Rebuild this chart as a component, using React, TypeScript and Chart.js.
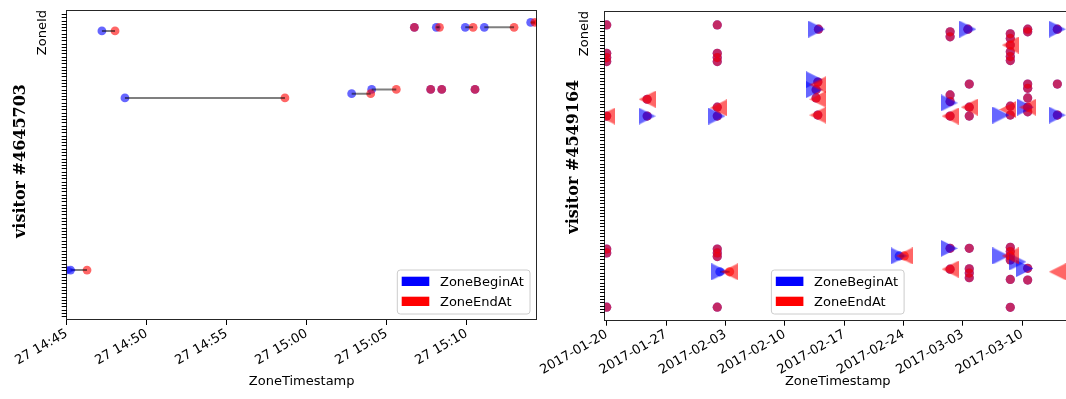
import React, { useEffect, useRef } from 'react';
import { Chart, registerables } from 'chart.js';

Chart.register(...registerables);

const SANS = "'DejaVu Sans', sans-serif";
const SERIF = "'DejaVu Serif', serif";

// ---------------- left panel: x = minutes after 27 14:45 ----------------
const leftTitle = 'visitor #4645703';
const leftZone = [14.2, 87.0, 66.6, 67.9, 69.2, 88.1, 88.1, 88.1, 88.1, 69.2, 69.2, 69.2, 89.6];
const leftBegin = [0.24, 2.2, 3.64, 17.81, 19.06, 21.73, 23.1, 24.91, 26.1, 22.75, 23.44, 25.52, 29.0];
const leftEnd = [1.27, 3.02, 13.64, 19.0, 20.6, 21.73, 23.3, 25.4, 27.96, 22.75, 23.44, 25.52, 29.27];
const leftEntryX = [0.24];
const leftEntryZone = [14.2];
const leftExitX = [29.27];
const leftExitZone = [89.6];
const leftTickValues = [0, 5, 10, 15, 20, 25];
const leftTickLabels = ['27 14:45', '27 14:50', '27 14:55', '27 15:00', '27 15:05', '27 15:10'];
const leftZoneTicks = Array.from({ length: 93 }, (_, i) => i);

// ---------------- right panel: x = days after 2017-01-20 ----------------
const rightTitle = 'visitor #4549164';
const rightBegin = [
  0, 0, 0, 0, 0, 0, 0, 0,
  4.77, 4.77,
  13.04, 13.04, 13.04, 13.04, 13.04, 13.04, 13.04, 13.04, 13.04, 13.04, 13.35,
  24.98, 24.9, 24.7, 24.7, 24.9,
  34.5,
  40.5, 40.5, 40.5, 40.5, 40.5, 40.5, 40.5,
  42.6, 42.76, 42.76, 42.76, 42.76, 42.76, 42.76, 42.76,
  47.6, 47.6, 47.6, 47.6, 47.6, 47.6, 47.6, 47.6, 47.6, 47.6, 47.6, 47.6, 47.6, 47.6,
  49.65, 49.65, 49.65, 49.65, 49.65, 49.65, 49.65, 49.65, 49.65,
  53.15, 53.15, 53.15,
];
const rightEnd = [
  0, 0, 0, 0, 0, 0, 0, 0,
  4.77, 4.77,
  13.04, 13.04, 13.04, 13.04, 13.04, 13.04, 13.04, 13.04, 13.04, 13.04, 14.5,
  24.98, 24.9, 24.7, 24.7, 24.9,
  35.1,
  40.5, 40.5, 40.5, 40.5, 40.5, 40.5, 40.5,
  42.6, 42.76, 42.76, 42.76, 42.76, 42.76, 42.76, 42.76,
  47.6, 47.6, 47.6, 47.6, 47.6, 47.6, 47.6, 47.6, 47.6, 47.6, 47.6, 47.6, 47.6, 47.6,
  49.65, 49.65, 49.65, 49.65, 49.65, 49.65, 49.65, 49.65, 49.65,
  53.15, 53.15, 53.15,
];
const rightZone = [
  87.1, 78.5, 77.2, 76.0, 59.5, 19.3, 18.1, 1.7,
  64.6, 59.5,
  87.1, 78.5, 77.2, 76.0, 62.2, 59.5, 19.3, 18.1, 17.0, 1.7, 12.4,
  85.8, 69.8, 67.5, 65.0, 59.8,
  17.2,
  85.0, 83.5, 65.9, 63.9, 59.5, 19.5, 13.2,
  85.8, 69.2, 62.2, 59.5, 19.5, 13.3, 12.0, 10.6,
  84.4, 83.0, 81.0, 79.0, 77.5, 76.3, 62.5, 59.8, 19.8, 18.5, 17.2, 16.0, 10.1, 1.65,
  85.8, 85.0, 69.2, 67.9, 65.0, 62.2, 60.8, 13.45, 9.9,
  85.8, 69.2, 59.8,
];
const rightEntryDay = [4.77, 13.0, 13.35, 24.78, 24.5, 24.5, 34.5, 40.4, 40.4, 42.6, 46.5, 46.5, 48.5, 49.3, 49.4, 53.15, 53.15];
const rightEntryZone = [59.5, 59.5, 12.4, 85.8, 70.5, 67.5, 17.2, 63.5, 19.5, 85.8, 59.8, 17.2, 15.4, 13.4, 62.2, 85.8, 59.8];
const rightExitDay = [0, 4.77, 13.2, 14.5, 24.9, 24.9, 24.9, 35.1, 40.5, 40.5, 42.76, 47.6, 47.3, 47.6, 49.65, 53.15];
const rightExitZone = [59.5, 64.6, 62.0, 12.4, 69.0, 64.6, 59.8, 17.2, 59.5, 13.2, 62.2, 81.0, 61.5, 17.2, 62.2, 12.4];
const rightTickValues = [0, 7, 14, 21, 28, 35, 42, 49];
const rightTickLabels = ['2017-01-20', '2017-01-27', '2017-02-03', '2017-02-10', '2017-02-17', '2017-02-24', '2017-03-03', '2017-03-10'];
const rightZoneTicks = Array.from({ length: 89 }, (_, i) => i);

const legendLabels = ['ZoneBeginAt', 'ZoneEndAt'];
const legendColors = ['#0000ff', '#ff0000'];

const BLUE = 'rgba(0,0,255,0.6)';
const RED = 'rgba(255,0,0,0.6)';

function triangleStyle(size: number, color: string, dir: 'right' | 'left') {
  const c = document.createElement('canvas');
  c.width = size;
  c.height = size;
  const g = c.getContext('2d')!;
  g.fillStyle = color;
  g.beginPath();
  if (dir === 'right') {
    g.moveTo(0, 0);
    g.lineTo(size, size / 2);
    g.lineTo(0, size);
  } else {
    g.moveTo(size, 0);
    g.lineTo(0, size / 2);
    g.lineTo(size, size);
  }
  g.closePath();
  g.fill();
  return c;
}

type Panel = {
  title: string; titleX: number; titleY: number;
  zone: number[]; begin: number[]; end: number[];
  entryX: number[]; entryZone: number[]; exitX: number[]; exitZone: number[];
  xMin: number; xMax: number; yMin: number; yMax: number;
  tickValues: number[]; tickLabels: string[]; yTicks: number[];
  triSize: number; pointRadius: number;
  yWidth: number; yTitlePad: number; padTop: number; padRight: number; xHeight: number;
  legendMode: 'right' | 'center'; legendInsetX: number; legendInsetY: number;
};

const decorPlugin = {
  id: 'decor',
  afterDraw(chart: any, _args: any, opts: any) {
    const p: Panel = opts.panel;
    const { ctx, chartArea: a } = chart;
    ctx.save();
    // axes frame
    ctx.strokeStyle = 'rgba(0,0,0,0.85)';
    ctx.lineWidth = 1;
    const l = Math.round(a.left) - 0.5;
    const t = Math.round(a.top) + 0.5;
    const r = Math.round(a.right) - 0.5;
    const b = Math.round(a.bottom) - 0.5;
    ctx.strokeRect(l, t, r - l, b - t);
    // legend
    const bw = 132.7;
    const bh = 44;
    const bx = p.legendMode === 'right' ? a.right - p.legendInsetX - bw : (a.left + a.right) / 2 - bw / 2;
    const by = a.bottom - p.legendInsetY - bh;
    ctx.beginPath();
    const rr = 3;
    ctx.moveTo(bx + rr, by);
    ctx.lineTo(bx + bw - rr, by);
    ctx.arcTo(bx + bw, by, bx + bw, by + rr, rr);
    ctx.lineTo(bx + bw, by + bh - rr);
    ctx.arcTo(bx + bw, by + bh, bx + bw - rr, by + bh, rr);
    ctx.lineTo(bx + rr, by + bh);
    ctx.arcTo(bx, by + bh, bx, by + bh - rr, rr);
    ctx.lineTo(bx, by + rr);
    ctx.arcTo(bx, by, bx + rr, by, rr);
    ctx.closePath();
    ctx.fillStyle = 'rgba(255,255,255,0.8)';
    ctx.fill();
    ctx.strokeStyle = '#cccccc';
    ctx.stroke();
    ctx.font = `13px ${SANS}`;
    ctx.textBaseline = 'alphabetic';
    ctx.textAlign = 'left';
    legendLabels.forEach((lab, i) => {
      ctx.fillStyle = legendColors[i];
      ctx.fillRect(bx + 4.4, by + 6.7 + i * 20, 27.6, 9.3);
      ctx.fillStyle = '#000';
      ctx.fillText(lab, bx + 42.7, by + 16 + i * 20);
    });
    // visitor label
    ctx.translate(p.titleX, p.titleY);
    ctx.rotate(-Math.PI / 2);
    ctx.font = `bold 16px ${SERIF}`;
    ctx.fillStyle = '#000';
    ctx.textAlign = 'center';
    ctx.textBaseline = 'middle';
    ctx.fillText(p.title, 0, 0);
    ctx.restore();
  },
};

function buildChart(canvas: HTMLCanvasElement, p: Panel) {
  const pts = (xs: number[], ys: number[]) => xs.map((x, i) => ({ x, y: ys[i] }));
  const segs: any[] = [];
  p.zone.forEach((z, i) => {
    segs.push({ x: p.begin[i], y: z }, { x: p.end[i], y: z }, { x: p.end[i], y: null });
  });
  return new Chart(canvas, {
    type: 'scatter',
    data: {
      datasets: [
        { label: 'ZoneBeginAt', data: pts(p.begin, p.zone), pointBackgroundColor: BLUE, backgroundColor: BLUE, pointRadius: p.pointRadius, pointBorderWidth: 0, order: 5 },
        { label: 'ZoneEndAt', data: pts(p.end, p.zone), pointBackgroundColor: RED, backgroundColor: RED, pointRadius: p.pointRadius, pointBorderWidth: 0, order: 4 },
        { label: 'span', data: segs, showLine: true, borderColor: 'rgba(0,0,0,0.5)', borderWidth: 2, pointRadius: 0, order: 3 } as any,
        { label: 'entry', data: pts(p.entryX, p.entryZone), pointStyle: triangleStyle(p.triSize, BLUE, 'right'), pointRadius: p.triSize / 2, order: 2 } as any,
        { label: 'exit', data: pts(p.exitX, p.exitZone), pointStyle: triangleStyle(p.triSize, RED, 'left'), pointRadius: p.triSize / 2, order: 1 } as any,
      ],
    },
    options: {
      animation: false,
      responsive: false,
      events: [],
      layout: { padding: { left: 0, top: p.padTop, right: p.padRight, bottom: 0 } },
      plugins: {
        legend: { display: false },
        tooltip: { enabled: false },
        decor: { panel: p },
      } as any,
      scales: {
        x: {
          type: 'linear',
          min: p.xMin,
          max: p.xMax,
          bounds: 'data',
          afterBuildTicks: (s: any) => { s.ticks = p.tickValues.map((v) => ({ value: v })); },
          afterFit: (s: any) => { s.height = p.xHeight; },
          ticks: {
            autoSkip: false,
            maxRotation: 30,
            minRotation: 30,
            padding: 1,
            color: '#000',
            font: { family: SANS, size: 13 },
            callback: (_v: any, i: number) => p.tickLabels[i],
          },
          grid: { drawOnChartArea: false, drawTicks: true, tickLength: 5, color: '#000', lineWidth: 1 },
          border: { display: false },
          title: { display: true, text: 'ZoneTimestamp', color: '#000', font: { family: SANS, size: 13 }, padding: { top: 0, bottom: 9.7 } },
        },
        y: {
          type: 'linear',
          min: p.yMin,
          max: p.yMax,
          bounds: 'data',
          afterBuildTicks: (s: any) => { s.ticks = p.yTicks.map((v) => ({ value: v })); },
          afterFit: (s: any) => { s.width = p.yWidth; },
          ticks: { display: false, autoSkip: false },
          grid: { drawOnChartArea: false, drawTicks: true, tickLength: 5, color: '#000', lineWidth: 1 },
          border: { display: false },
          title: { display: true, text: 'ZoneId', align: 'end', color: '#000', font: { family: SANS, size: 13 }, padding: { top: p.yTitlePad, bottom: 0 } },
        },
      } as any,
    },
    plugins: [decorPlugin],
  } as any);
}

const leftPanel: Panel = {
  title: leftTitle, titleX: 20.5, titleY: 161,
  zone: leftZone, begin: leftBegin, end: leftEnd,
  entryX: leftEntryX, entryZone: leftEntryZone, exitX: leftExitX, exitZone: leftExitZone,
  xMin: 0, xMax: 29.375, yMin: -0.99, yMax: 93.37,
  tickValues: leftTickValues, tickLabels: leftTickLabels, yTicks: leftZoneTicks,
  triSize: 10, pointRadius: 4.4,
  yWidth: 66.7, yTitlePad: 34.7, padTop: 10, padRight: 23.3, xHeight: 79,
  legendMode: 'right', legendInsetX: 6.7, legendInsetY: 6,
};

const rightPanel: Panel = {
  title: rightTitle, titleX: 53.7, titleY: 156.7,
  zone: rightZone, begin: rightBegin, end: rightEnd,
  entryX: rightEntryDay, entryZone: rightEntryZone, exitX: rightExitDay, exitZone: rightExitZone,
  xMin: -0.2, xMax: 54.7, yMin: -2.4, yMax: 91.3,
  tickValues: rightTickValues, tickLabels: rightTickLabels, yTicks: rightZoneTicks,
  triSize: 17, pointRadius: 4.6,
  yWidth: 85, yTitlePad: 56.9, padTop: 11, padRight: 5, xHeight: 78.3,
  legendMode: 'center', legendInsetX: 0, legendInsetY: 6.7,
};

function PanelCanvas({ panel, left, width }: { panel: Panel; left: number; width: number }) {
  const ref = useRef<HTMLCanvasElement>(null);
  useEffect(() => {
    const chart = buildChart(ref.current!, panel);
    return () => chart.destroy();
  }, [panel]);
  return (
    <canvas
      ref={ref}
      width={width}
      height={399}
      style={{ position: 'absolute', left, top: 0, width, height: 399 }}
    />
  );
}

export default function App() {
  return (
    <div style={{ position: 'fixed', left: 0, top: 0, width: 1066, height: 399, overflow: 'hidden', background: '#fff' }}>
      <PanelCanvas panel={leftPanel} left={0} width={560} />
      <PanelCanvas panel={rightPanel} left={520} width={560} />
    </div>
  );
}
